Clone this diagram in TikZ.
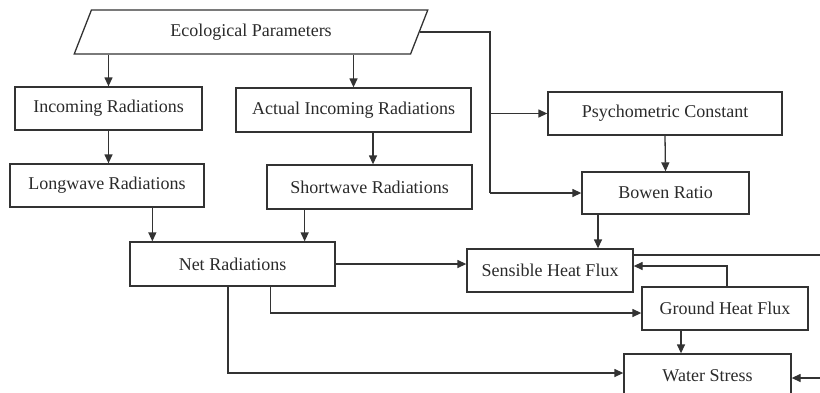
\documentclass[tikz,border=0pt]{standalone}
\usepackage{fontspec}
\setmainfont{Liberation Serif}
\usetikzlibrary{shapes.geometric,arrows.meta,calc}
\definecolor{ln}{HTML}{333333}
\definecolor{tx}{HTML}{2A2A2A}
\begin{document}
\begin{tikzpicture}[x=1pt,y=-1pt,
  every node/.style={font=\fontsize{18}{20}\selectfont, text=tx},
  box/.style={draw=ln, line width=1.3pt, rectangle, inner sep=0pt},
  arr/.style={draw=ln, line width=1.3pt, -{Triangle[length=9pt,width=8pt]}},
  ln/.style={draw=ln, line width=1.3pt}]
\useasboundingbox (0,0) rectangle (820,392);
\clip (0,0) rectangle (820,392);
% nodes
\node[draw=ln, line width=1.3pt, trapezium, trapezium left angle=62, trapezium right angle=118,
      trapezium stretches=true, minimum width=354pt, minimum height=44pt, inner sep=0pt]
      (ep) at (251,32) {Ecological Parameters};
\node[box, minimum width=187pt, minimum height=43pt] (inc) at (108.5,108.5) {Incoming Radiations};
\node[box, minimum width=235pt, minimum height=44pt] (act) at (353.5,110) {Actual Incoming Radiations};
\node[box, minimum width=194pt, minimum height=43pt] (lw) at (107,185.5) {Longwave Radiations};
\node[box, minimum width=205pt, minimum height=44pt] (sw) at (369.5,187) {Shortwave Radiations};
\node[box, minimum width=234pt, minimum height=43pt] (psy) at (665,113.5) {Psychometric Constant};
\node[box, minimum width=167pt, minimum height=42pt] (bow) at (665.5,193) {Bowen Ratio};
\node[box, minimum width=205pt, minimum height=44pt] (net) at (232.5,264) {Net Radiations};
\node[box, minimum width=166pt, minimum height=43pt] (sen) at (550,270.5) {Sensible Heat Flux};
\node[box, minimum width=166pt, minimum height=43pt] (gnd) at (725,308.5) {Ground Heat Flux};
\node[box, minimum width=167pt, minimum height=43pt] (ws) at (707.5,375.5) {Water Stress};
% helper coordinates
\coordinate (bus) at (490,0);
\coordinate (offr) at (835,0);
% connectors
\draw[arr] (ep.south -| inc.north) -- (inc.north);
\draw[arr] (ep.south -| act.north) -- (act.north);
\draw[arr] (inc.south) -- (inc.south |- lw.north);
\draw[arr] ([xshift=3.5pt]sw.north |- act.south) -- ([xshift=3.5pt]sw.north);
\draw[arr] ([xshift=23pt]net.north west |- lw.south) -- ([xshift=23pt]net.north west);
\draw[arr] ([xshift=-31pt]net.north east |- sw.south) -- ([xshift=-31pt]net.north east);
\draw[ln] (ep.east) -- (ep.east -| bus) -- (bus |- bow.west);
\draw[arr] (bus |- bow.west) -- (bow.west);
\draw[arr] (bus |- psy.west) -- (psy.west);
\draw[arr] (psy.south) -- (bow.north);
\draw[arr] ([xshift=48pt]sen.north |- bow.south) -- ([xshift=48pt]sen.north);
\draw[arr] (net.east) -- (net.east -| sen.west);
\draw[arr] ([yshift=15.5pt]sen.east) -- ([yshift=15.5pt]sen.east -| offr) |- ([yshift=-2.5pt]ws.east);
\draw[arr] ([xshift=2pt]gnd.north) |- ([yshift=4.5pt]sen.east);
\draw[arr] ([xshift=141pt]net.south west) |- ([yshift=-4.5pt]gnd.west);
\draw[arr] ([xshift=-44pt]gnd.south) -- ([xshift=-44pt]gnd.south |- ws.north);
\draw[arr] ([xshift=-4.5pt]net.south) |- ([yshift=2.5pt]ws.west);
\end{tikzpicture}
\end{document}
